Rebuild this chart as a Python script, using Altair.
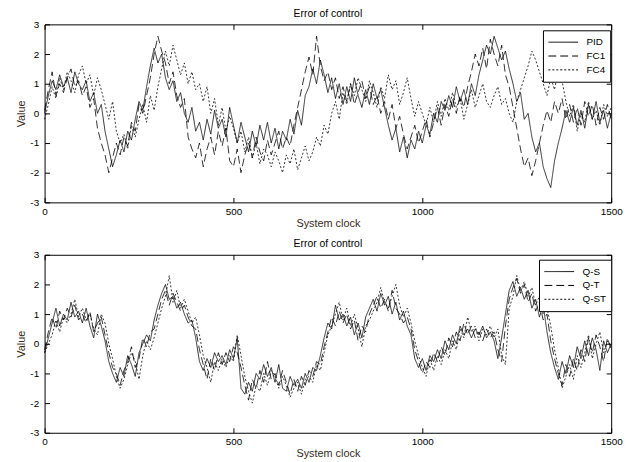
import altair as alt
import pandas as pd

clock = list(range(0, 1501, 10))

# ---- top panel series ----
pid = [0.0, 0.6, 1.1, 0.8, 1.3, 0.9, 1.2, 0.7, 1.4, 1.0,
       0.8, 1.1, 0.4, 0.7, 0.0, 0.3, -0.6, -1.2, -1.8, -1.4,
       -0.9, -1.3, -0.6, -0.9, -0.2, 0.4, 0.1, 0.9, 1.6, 2.2,
       1.7, 2.0, 1.2, 0.8, 1.1, 0.4, 0.7, 0.0, -0.3, 0.2,
       -0.6, -0.3, -0.9, -0.2, -0.7, 0.1, -0.5, -0.2, -0.8, 0.2,
       -0.4, -1.0, -0.3, -0.8, -1.3, -0.6, -1.1, -0.4, -0.9, -0.3,
       -1.0, -0.5, -1.2, -0.6, -0.9, -0.2, -0.7, 0.1, -0.4, 0.6,
       0.9, 1.5, 1.0, 1.8, 1.3, 0.7, 1.2, 0.5, 1.0, 0.3,
       0.9, 0.4, 1.2, 0.6, 0.2, 0.8, 0.3, 1.0, 0.5, 0.8,
       0.2, -0.4, -0.9, -0.5, -1.3, -0.8, -1.5, -0.9, -1.2, -0.6,
       -1.0, -0.4, -0.7, 0.0, -0.3, 0.4, 0.1, 0.6, 0.2, 0.9,
       0.4, 0.8, 0.3, 1.0, 0.6, 1.3, 1.8, 2.3, 2.0, 2.6,
       2.2, 1.8, 2.1, 1.5, 1.0, 0.4, 0.7, -0.2, 0.0, -0.8,
       -1.3, -1.0, -1.8, -2.2, -2.5, -1.6, -1.0, -0.5, 0.1, -0.3,
       0.2, -0.4, 0.1, -0.5, 0.3, -0.2, 0.4, -0.3, 0.1, -0.5,
       0.0]

fc1 = [0.1, 0.8, 1.4, 0.6, 1.0, 0.7, 1.2, 1.5, 0.9, 1.1,
       0.6, 0.9, 0.2, 0.5, -0.5, -1.0, -1.4, -2.0, -1.5, -1.0,
       -1.4, -0.8, -1.1, -0.3, -0.6, 0.3, 0.0, 0.6, 1.2, 2.0,
       2.6, 2.1, 1.7, 1.0, 1.4, 0.6, 0.2, 0.5, -0.8, -1.2,
       -1.5, -1.0, -1.8, -1.2, -0.8, -1.4, -0.6, -1.1, -0.5, -1.6,
       -1.8, -1.2, -2.0, -1.4, -1.0, -1.5, -0.8, -1.3, -1.6, -0.9,
       -1.4, -1.0, -0.6, -1.2, -0.8, -1.1, -0.4, 0.2, 0.8, 1.4,
       1.9, 1.3, 2.6, 1.6, 1.1, 1.4, 0.8, 1.2, 0.5, 0.9,
       0.4, 1.0, 0.3, 0.7, 1.1, 0.5, 0.9, 0.3, 0.6, 0.0,
       0.4, -0.2, 0.3, -0.5, -0.1, -0.7, -1.2, -0.8, -0.4, -1.0,
       -0.6, -0.2, -0.8, -0.3, 0.2, -0.4, 0.3, -0.1, 0.5, 0.0,
       0.6, 0.2, 0.9, 1.4, 2.0, 1.6, 2.2, 1.5, 2.5, 2.0,
       1.6, 2.3, 1.3, 0.9, 0.2, -0.5, -1.2, -1.8, -1.5, -2.1,
       -1.6, -1.0, -0.4, 0.1, -0.3, 0.4, 0.0, 0.5, -0.2, 0.3,
       -0.3, 0.2, -0.4, 0.4, -0.1, 0.3, -0.4, 0.2, -0.2, 0.3,
       -0.2]

fc4 = [-0.2, 0.3, 0.9, 0.5, 1.2, 0.8, 1.4, 1.1, 0.7, 1.3,
       1.6, 1.0, 1.3, 0.6, 1.2, 0.8, 0.3, -0.2, 0.4, -0.6,
       -1.0, -0.7, -1.2, -0.4, -0.8, -0.2, 0.3, -0.3, 0.6, 0.1,
       0.9, 1.5, 2.1, 1.6, 2.3, 1.8, 1.3, 1.7, 1.0, 1.4,
       0.8, 1.0, 0.4, 0.9, 0.0, 0.5, -0.4, 0.2, -0.6, -0.1,
       -0.5, -1.0, -0.6, -1.3, -0.8, -1.5, -1.0, -1.7, -1.2, -1.4,
       -1.8, -1.3, -1.6, -2.0, -1.4, -1.7, -1.2, -1.9, -1.5, -1.1,
       -1.6, -1.3, -0.8, -1.1, -0.4, -0.7, 0.0, 0.4, -0.2, 0.7,
       0.3, 1.0, 0.6, 1.2, 0.8, 0.4, 1.1, 0.7, 0.2, 0.9,
       0.5, 1.3, 0.8, 1.1, 0.3, 0.7, 1.2, 0.5, -0.1, 0.4,
       0.0, -0.4, 0.2, -0.3, 0.4, -0.1, 0.5, 0.1, 0.7, 0.2,
       0.5, -0.2, 0.3, 0.8, 0.2, 0.6, 1.0, 0.4, 0.2, 0.6,
       0.9, 0.3, 0.5, 0.0, -0.3, 0.4, 0.8, 1.2, 1.6, 2.1,
       1.8, 1.4, 1.0, 0.6, 1.2, 0.8, 1.5, 1.1, 0.4, -0.1,
       0.3, -0.6, 0.0, -0.3, 0.4, -0.2, 0.1, -0.4, 0.3, -0.1,
       0.2]

# ---- bottom panel series ----
qs = [-0.3, 0.2, 0.7, 1.2, 0.6, 1.0, 0.8, 1.4, 0.9, 1.1,
      0.7, 1.2, 0.6, 0.2, 1.0, 0.6, 0.1, -0.6, -1.0, -1.3,
      -0.8, -1.1, -0.4, -0.7, -1.1, -0.3, 0.0, 0.3, 0.1, 0.8,
      1.3, 1.7, 2.0, 1.5, 1.6, 1.2, 1.4, 1.0, 0.7, 0.8,
      0.2, -0.6, -0.9, -0.5, -0.8, -0.3, -0.6, -0.4, -0.7, -0.2,
      -0.5, 0.2, -1.5, -1.7, -1.3, -1.6, -1.0, -1.2, -0.7, -1.1,
      -0.8, -1.3, -0.7, -1.5, -1.6, -1.1, -1.4, -1.2, -1.5, -1.0,
      -1.3, -0.8, -0.9, -0.4, 0.2, 0.7, 0.5, 1.3, 0.8, 1.0,
      0.6, 0.9, 0.3, 0.7, 0.2, 0.9, 1.2, 1.5, 1.1, 1.7,
      1.3, 1.6, 1.0, 1.4, 0.8, 1.1, 0.6, 0.3, -0.5, -0.8,
      -0.5, -0.9, -0.4, -0.6, -0.2, -0.5, 0.1, -0.2, 0.3, 0.0,
      0.6, 0.3, 0.5, 0.2, 0.5, 0.3, 0.6, 0.2, 0.4, 0.1,
      -0.5, 0.2, 1.0, 1.8, 2.1, 1.6, 1.9, 1.5, 1.8, 1.2,
      1.5, 0.9, 1.3, 0.4, -0.3, -0.8, -1.2, -0.6, -1.0, -0.4,
      -0.8, -0.1, -0.5, 0.1, -0.4, 0.2, -0.2, -0.9, 0.1, -0.3,
      0.0]

qt = [-0.2, 0.4, 0.9, 0.5, 1.1, 0.8, 1.2, 0.9, 1.3, 0.8,
      1.0, 0.7, 1.1, 0.4, 0.7, 0.9, 0.3, -0.3, -0.8, -1.0,
      -1.4, -0.9, -0.6, -0.1, -0.8, -0.5, 0.2, -0.1, 0.4, 0.5,
      1.0, 1.5, 1.8, 1.3, 1.7, 1.4, 1.1, 1.3, 0.9, 0.6,
      0.5, -0.2, -0.7, -1.2, -0.5, -0.9, -0.3, -0.7, -0.3, -0.6,
      -0.1, -0.3, -0.8, -1.4, -1.9, -1.2, -1.5, -0.9, -1.3, -0.6,
      -1.2, -1.0, -1.4, -0.9, -1.3, -1.7, -1.2, -1.6, -1.1, -1.4,
      -0.9, -1.1, -0.6, -0.7, -0.1, 0.4, 0.9, 0.6, 1.1, 0.7,
      1.0, 0.5, 0.8, 0.1, 0.6, 0.4, 1.0, 1.3, 1.6, 1.2,
      1.5, 1.1, 1.8, 1.2, 1.0, 0.7, 0.9, 0.5, -0.2, -0.6,
      -1.0, -0.6, -0.8, -0.3, -0.6, -0.1, -0.4, 0.2, -0.1, 0.4,
      0.1, 0.7, 0.3, 0.6, 0.2, 0.4, 0.1, 0.5, 0.2, 0.4,
      -0.2, -0.6, 0.6, 1.5, 1.9, 2.2, 1.7, 2.0, 1.4, 1.7,
      1.1, 1.4, 0.8, 1.0, 0.1, -0.5, -1.0, -1.4, -0.7, -1.1,
      -0.5, -0.9, -0.2, -0.6, 0.2, -0.3, 0.3, -0.1, -0.6, 0.2,
      -0.2]

qst = [-0.3, 0.0, 0.3, 0.8, 0.4, 0.9, 0.7, 1.0, 1.5, 0.9,
       1.2, 0.8, 1.0, 0.5, 0.3, 1.0, 0.7, 0.0, -0.5, -1.1,
       -1.5, -1.2, -0.7, -0.3, -0.6, -1.2, -0.4, 0.1, -0.2, 0.2,
       0.7, 1.2, 1.6, 2.3, 1.4, 1.8, 1.2, 1.5, 1.1, 0.7,
       0.9, 0.3, -0.4, -0.8, -1.3, -0.6, -0.9, -0.5, -0.8, -0.4,
       -0.6, 0.3, -0.4, -1.1, -1.6, -2.0, -1.4, -1.6, -1.0, -1.4,
       -0.9, -1.1, -1.5, -1.1, -1.4, -1.8, -1.5, -1.3, -1.7, -1.2,
       -1.1, -1.3, -0.7, -0.9, -0.3, 0.3, 0.6, 1.0, 1.4, 0.8,
       1.2, 0.6, 1.0, 0.5, -0.1, 0.6, 0.8, 1.1, 1.4, 1.9,
       1.4, 1.2, 1.6, 2.0, 1.3, 0.9, 1.2, 0.7, 0.1, -0.4,
       -0.8, -1.1, -0.5, -0.9, -0.4, -0.7, -0.2, -0.5, 0.1, -0.2,
       0.5, 0.2, 0.9, 0.4, 0.6, 0.1, 0.5, 0.3, 0.6, 0.2,
       0.5, -0.4, -0.7, 1.2, 1.6, 2.3, 1.8, 2.1, 1.6, 1.9,
       1.3, 1.6, 1.0, 1.2, 0.6, -0.2, -0.8, -1.5, -1.1, -0.7,
       -1.2, -0.4, -0.8, -0.3, 0.3, -0.5, 0.0, 0.4, -0.3, 0.1,
       -0.1]

top_names = ["PID", "FC1", "FC4"]
bottom_names = ["Q-S", "Q-T", "Q-ST"]
x_ticks = [0, 500, 1000, 1500]
y_ticks = [-3, -2, -1, 0, 1, 2, 3]
dashes = [[1, 0], [8, 4], [2, 2]]

FONT = "Liberation Sans"
LABEL_COLOR = "#3a2a22"


def long_table(names, series):
    rows = []
    for n, vals in zip(names, series):
        assert len(vals) == len(clock), (n, len(vals))
        for c, v in zip(clock, vals):
            rows.append({"clock": c, "value": v, "series": n})
    return pd.DataFrame(rows)


def panel(names, series, legend_x, legend_y):
    df = long_table(names, series)
    xs = alt.Scale(domain=[0, 1500], nice=False, zero=False)
    ys = alt.Scale(domain=[-3, 3], nice=False)
    tick_style = dict(domain=False, grid=False, ticks=True, tickColor="black",
                      tickSize=5, tickWidth=1, tickOpacity=1, zindex=1)
    lab_style = dict(labelFont=FONT, labelFontSize=10, labelColor="black",
                     labelFlush=False, titleFont=FONT, titleFontSize=11,
                     titleFontWeight="normal", titleColor=LABEL_COLOR)
    x_bottom = alt.Axis(orient="bottom", values=x_ticks, offset=-5,
                        labelPadding=4, title="System clock", titlePadding=1,
                        labelExpr="'' + datum.value", **tick_style, **lab_style)
    y_left = alt.Axis(orient="left", values=y_ticks, offset=-5,
                      labelPadding=6, title="Value", titlePadding=3,
                      labelExpr="'' + datum.value", **tick_style, **lab_style)
    x_top = alt.Axis(orient="top", values=x_ticks, offset=-5, labels=False,
                     title=None, minExtent=0, maxExtent=0, **tick_style)
    y_right = alt.Axis(orient="right", values=y_ticks, offset=-5, labels=False,
                       title=None, minExtent=0, maxExtent=0, **tick_style)

    lines = alt.Chart(df).mark_line(strokeWidth=0.8, color="black").encode(
        x=alt.X("clock:Q", scale=xs, axis=x_bottom),
        y=alt.Y("value:Q", scale=ys, axis=y_left),
        strokeDash=alt.StrokeDash(
            "series:N",
            scale=alt.Scale(domain=names, range=dashes),
            sort=names,
            legend=alt.Legend(
                title=None, orient="none", legendX=legend_x, legendY=legend_y,
                strokeColor="black", fillColor="white", padding=5,
                symbolType="stroke", symbolSize=900, symbolStrokeWidth=1,
                symbolStrokeColor="black", labelFont=FONT, labelFontSize=10,
                labelColor="black", labelAlign="left", labelOffset=8,
                clipHeight=14, rowPadding=0, cornerRadius=0, zindex=2,
            ),
        ),
        order=alt.Order("clock:Q"),
    )
    frame = alt.Chart(df).mark_line(opacity=0).encode(
        x=alt.X("clock:Q", scale=xs, axis=x_top),
        y=alt.Y("value:Q", scale=ys, axis=y_right),
        detail="series:N",
    )
    return alt.layer(lines, frame).resolve_axis(x="independent", y="independent").properties(
        width=573, height=180,
        title=alt.TitleParams("Error of control", fontSize=10.5, fontWeight="normal",
                              font=FONT, color="black", offset=0),
    )


top = panel(top_names, [pid, fc1, fc4], 504, 6)
bottom = panel(bottom_names, [qs, qt, qst], 500, 5)

chart = alt.vconcat(top, bottom, spacing=10).resolve_scale(
    strokeDash="independent"
).resolve_legend(strokeDash="independent").properties(
    padding={"left": 7, "top": -2, "right": 5, "bottom": 0},
    background="white",
).configure_view(stroke="black", strokeWidth=1).configure_axis(grid=False)

chart.save("out.html", embed_options={"renderer": "svg", "actions": False})
